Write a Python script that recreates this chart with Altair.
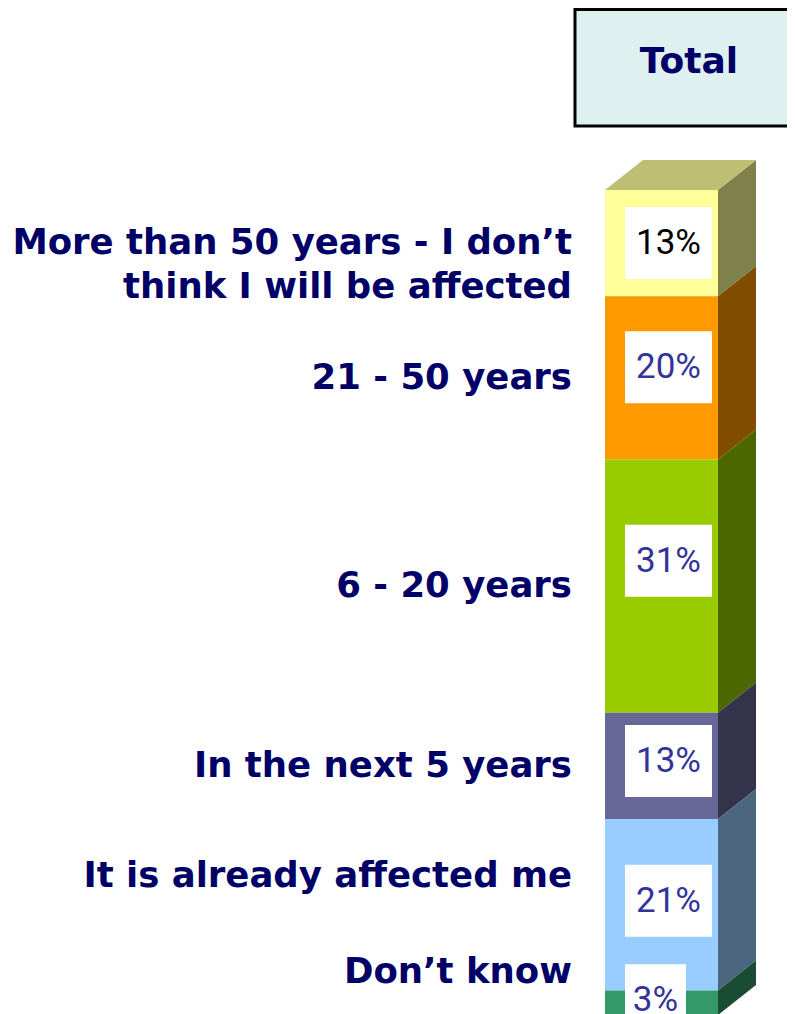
import altair as alt
import pandas as pd

# ---------------- data (top segment first) ----------------
categories = [
    "More than 50 years - I don\u2019t\nthink I will be affected",
    "21 - 50 years",
    "6 - 20 years",
    "In the next 5 years",
    "It is already affected me",
    "Don\u2019t know",
]
values = [13, 20, 31, 13, 21, 3]
value_labels = ["13%", "20%", "31%", "13%", "21%", "3%"]
header = "Total"

# ---------------- styles ----------------
front_colors = ["#FFFF99", "#FF9900", "#99CC00", "#666699", "#99CCFF", "#339966"]
side_colors = ["#80804C", "#804C00", "#4C6600", "#33334C", "#4C6680", "#1A4C33"]
top_color = "#BFBF73"
value_text_colors = ["#000000", "#333399", "#333399", "#333399", "#333399", "#333399"]
category_label_shift = [0, 0, 0, 0, 3.5, 3.8]     # in percent units
value_label_shift = [0, 1.3, 3.1, 0.6, 0.5, 0.3]  # in percent units
NAVY = "#000066"

# ---------------- layout ----------------
W, H = 779, 1006
BAR_LEFT_PX = 597          # chart px
BAR_W_PX = 113
DEPTH_X_PX, DEPTH_Y_PX = 38, 30
BAR_TOP_PX, BAR_BOTTOM_PX = 182, 1007   # chart px of 101% and 0%
total = sum(values)
ppp = (BAR_BOTTOM_PX - BAR_TOP_PX) / total  # px per percent

xdom = [-BAR_LEFT_PX / BAR_W_PX, (W - BAR_LEFT_PX) / BAR_W_PX]
ydom = [(BAR_BOTTOM_PX - H) / ppp, BAR_BOTTOM_PX / ppp]
dx = DEPTH_X_PX / BAR_W_PX
dy = DEPTH_Y_PX / ppp

xs = alt.Scale(domain=xdom, nice=False, zero=False)
ys = alt.Scale(domain=ydom, nice=False, zero=False)

# stack from bottom
n = len(values)
tops, bots = [0.0] * n, [0.0] * n
acc = 0.0
for i in range(n - 1, -1, -1):
    bots[i] = acc
    acc += values[i]
    tops[i] = acc

front = pd.DataFrame({
    "cat": categories, "y0": bots, "y1": tops,
    "x0": [0.0] * n, "x1": [1.0] * n, "fill": front_colors,
})

side_rows = []
for i in range(n):
    side_rows.append({"cat": categories[i], "x": 1.0, "top": tops[i], "bot": bots[i], "fill": side_colors[i]})
    side_rows.append({"cat": categories[i], "x": 1.0 + dx, "top": tops[i] + dy, "bot": bots[i] + dy, "fill": side_colors[i]})
side = pd.DataFrame(side_rows)

T = tops[0]
top_df = pd.DataFrame({
    "x": [0.0, dx, 1.0, 1.0 + dx],
    "top": [T, T + dy, T + dy, T + dy],
    "bot": [T, T, T, T + dy],
})

box_left = (625 - 8 - BAR_LEFT_PX) / BAR_W_PX
box_w = [(9 + 26 * len(s)) / BAR_W_PX for s in value_labels]
box_half_h = 36 / ppp
mids = [(bots[i] + tops[i]) / 2 for i in range(n)]
vals = pd.DataFrame({
    "label": value_labels,
    "yc": [mids[i] + value_label_shift[i] for i in range(n)],
    "x0": [box_left] * n,
    "x1": [box_left + w for w in box_w],
    "xc": [box_left + w / 2 for w in box_w],
    "tcol": value_text_colors,
})
vals["yb0"] = vals["yc"] - box_half_h
vals["yb1"] = vals["yc"] + box_half_h

cats = pd.DataFrame({
    "cat": categories,
    "y": [mids[i] + category_label_shift[i] for i in range(n)],
    "x": [(564 - BAR_LEFT_PX) / BAR_W_PX] * n,
})

front_l = alt.Chart(front).mark_bar().encode(
    x=alt.X("x0:Q", scale=xs, axis=None), x2="x1:Q",
    y=alt.Y("y0:Q", scale=ys, axis=None), y2="y1:Q",
    fill=alt.Fill("fill:N", scale=None),
)
side_l = alt.Chart(side).mark_area(orient="vertical").encode(
    x=alt.X("x:Q", scale=xs, axis=None),
    y=alt.Y("top:Q", scale=ys, axis=None), y2="bot:Q",
    fill=alt.Fill("fill:N", scale=None),
    detail="cat:N",
)
top_l = alt.Chart(top_df).mark_area(orient="vertical", color=top_color).encode(
    x=alt.X("x:Q", scale=xs, axis=None),
    y=alt.Y("top:Q", scale=ys, axis=None), y2="bot:Q",
)
box_l = alt.Chart(vals).mark_rect(color="white").encode(
    x=alt.X("x0:Q", scale=xs, axis=None), x2="x1:Q",
    y=alt.Y("yb0:Q", scale=ys, axis=None), y2="yb1:Q",
)
vtext_l = alt.Chart(vals).mark_text(
    font="Roboto", fontSize=35, align="center", baseline="middle"
).encode(
    x=alt.X("xc:Q", scale=xs, axis=None),
    y=alt.Y("yc:Q", scale=ys, axis=None),
    text="label:N",
    color=alt.Color("tcol:N", scale=None),
)
ctext_l = alt.Chart(cats).mark_text(
    font="DejaVu Sans", fontSize=35.5, fontWeight="bold", align="right",
    baseline="middle", color=NAVY, lineBreak="\n", lineHeight=44,
).encode(
    x=alt.X("x:Q", scale=xs, axis=None),
    y=alt.Y("y:Q", scale=ys, axis=None),
    text="cat:N",
)
hdr = pd.DataFrame({"t": [header]})
hbox = alt.Chart(hdr).mark_rect(fill="#DFF0F0", stroke="#000000", strokeWidth=3).encode(
    x=alt.value(567), x2=alt.value(800), y=alt.value(1.5), y2=alt.value(118),
)
htext = alt.Chart(hdr).mark_text(
    font="DejaVu Sans", fontSize=36, fontWeight="bold", color=NAVY,
    align="center", baseline="middle",
).encode(x=alt.value(681), y=alt.value(54), text="t:N")

chart = alt.layer(
    side_l, top_l, front_l, box_l, vtext_l, ctext_l, hbox, htext
).properties(
    width=W, height=H, autosize=alt.AutoSizeParams(type="none"), padding=0
).configure_view(stroke=None)

chart.save("out.html", embed_options={"renderer": "svg", "actions": False})
